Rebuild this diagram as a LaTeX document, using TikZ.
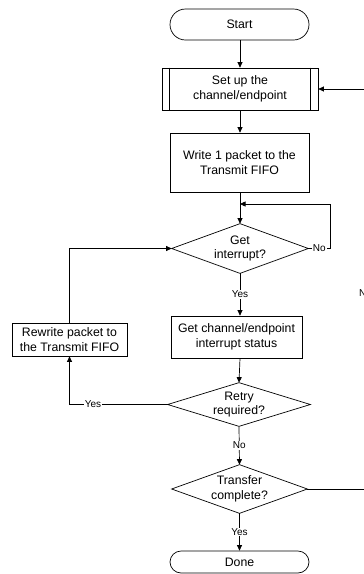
\documentclass[tikz,border=0pt]{standalone}
\usepackage{fontspec}
\setmainfont{Liberation Sans}
\usetikzlibrary{arrows.meta}
\begin{document}
\begin{tikzpicture}[x=1pt,y=-1pt,line width=0.7pt,
  base/.style={inner sep=0pt, align=center, font=\fontsize{12.3}{14.5}\selectfont},
  procbox/.style={base, draw},
  termbox/.style={base, draw},
  decbox/.style={base},
  lbl/.style={fill=white, inner sep=1pt, font=\fontsize{10}{12}\selectfont},
  arr/.style={-{Triangle[length=5.5pt,width=5pt]}}]
\useasboundingbox (0,0) rectangle (364,574);
\node[termbox, rounded corners=15.5pt, minimum width=139pt, minimum height=31pt] (start) at (239.5,24.5) {Start};
\node[procbox, minimum width=156pt, minimum height=42pt] (setup) at (240,89) {Set up the\\channel/endpoint};
\draw ([xshift=8pt]setup.north west) -- ([xshift=8pt]setup.south west);
\draw ([xshift=-8pt]setup.north east) -- ([xshift=-8pt]setup.south east);
\node[procbox, minimum width=139pt, minimum height=59pt] (write) at (239.5,162.5) {Write 1 packet to the\\Transmit FIFO};
\node[decbox, minimum width=136pt, minimum height=49pt] (gi) at (240,248.5) {Get\\interrupt?};
\node[procbox, minimum width=131pt, minimum height=42pt] (gc) at (236.5,337) {Get channel/endpoint\\interrupt status};
\node[procbox, minimum width=115pt, minimum height=33pt] (rw) at (69.5,339.5) {Rewrite packet to\\the Transmit FIFO};
\node[decbox, minimum width=142pt, minimum height=43pt] (rr) at (239,404.5) {Retry\\required?};
\node[decbox, minimum width=135pt, minimum height=48pt] (tc) at (239.5,489) {Transfer\\complete?};
\node[termbox, rounded corners=11pt, minimum width=139pt, minimum height=22pt] (done) at (239.5,562) {Done};
\foreach \n in {gi,rr,tc}
  \draw (\n.north) -- (\n.east) -- (\n.south) -- (\n.west) -- cycle;
\coordinate (jn) at (240,204);
\coordinate (rt1) at (365.5,489);
\coordinate (rt2) at (365.5,89);
% connectors
\draw[arr] (start.south -| setup.north) -- (setup.north);
\draw[arr] (setup.south) -- (setup.south |- write.north);
\draw[arr] (write.south -| gi.north) -- (gi.north);
\draw[arr] (gi.east) -- node[lbl]{No} ++(22,0) |- (jn);
\draw[arr] (gi.south) -- node[lbl]{Yes} (gi.south |- gc.north);
\draw[arr] (gi.south |- gc.south) -- (rr.north);
\draw[arr] (rr.west) -- node[lbl, pos=0.76]{Yes} (rr.west -| rw.south) -- (rw.south);
\draw[arr] (rw.north) |- (gi.west);
\draw[arr] (rr.south) -- node[lbl]{No} (tc.north);
\draw[arr] (tc.south) -- node[lbl]{Yes} (tc.south |- done.north);
\draw[arr] (tc.east) -- (rt1) -- node[lbl, pos=0.49]{No} (rt2) -- (setup.east);
\end{tikzpicture}
\end{document}
